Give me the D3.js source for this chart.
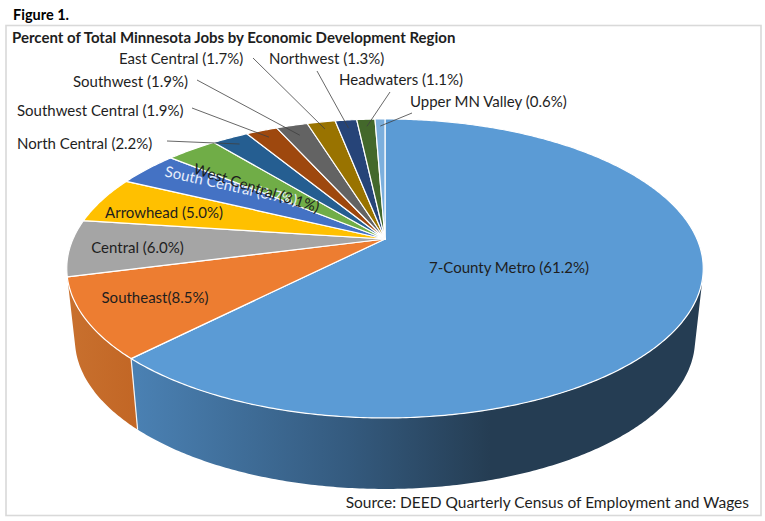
<!DOCTYPE html>
<html><head><meta charset="utf-8">
<script src="https://cdn.jsdelivr.net/npm/d3@7/dist/d3.min.js"></script>
<style>html,body{margin:0;padding:0;background:#fff}svg{display:block}text{font-family:Lato,"Open Sans",sans-serif;fill:#1e1e1e}</style>
</head><body><svg id="c" width="765" height="521"></svg>
<script>
const regions=["7-County Metro","Southeast","Central","Arrowhead","South Central","West Central","North Central","Southwest Central","Southwest","East Central","Northwest","Headwaters","Upper MN Valley"];
const shares=[61.2,8.5,6.0,5.0,3.7,3.1,2.2,1.9,1.9,1.7,1.3,1.1,0.6];
const labels=["7-County Metro (61.2%)","Southeast(8.5%)","Central (6.0%)","Arrowhead (5.0%)","South Central (3.7%)","West Central (3.1%)","North Central (2.2%)","Southwest Central (1.9%)","Southwest (1.9%)","East Central (1.7%)","Northwest (1.3%)","Headwaters (1.1%)","Upper MN Valley (0.6%)"];
const colors=["#5b9bd5","#ed7d31","#a5a5a5","#ffc000","#4472c4","#70ad47","#255e91","#9e480e","#636363","#997300","#264478","#43682b","#7cafdd"];
// label layout: x, y (baseline), anchor, rotation, leader start x,y, leader end radius
const layout=[
 [509,273,"middle",0],[155,303,"middle",0],[137.5,253,"middle",0],[164,218,"middle",0],
 [230,191,"middle",12.5],[255,193,"middle",17.5],
 [17,149,"start",0,167,141,.93],[17,116,"start",0,192,108,.93],[73,87,"start",0,197,80,.9],
 [119,64,"start",0,253,58,.93],[269,64,"start",0,317,71,.92],[339,85,"start",0,390,92,.93],[410,107,"start",0,412,113,.93]];

const svg=d3.select("#c");
const cx=385,apexY=239,k=0.197,topA=143.7,topB=312,wallY=310,wallB=304,TAU=2*Math.PI;
const project=(t,r,B,Y)=>{const u=Math.sin(t)*r,v=-Math.cos(t)*r,d=1-k*v;return [cx+B*u/d,Y+topA*v/d];};
const rimTop=(t,r=1)=>project(t,r,topB,apexY);
const rimBottom=t=>project(t,1,wallB,wallY);
const arcs=d3.pie().sort(null).value(d=>d).startAngle(0).endAngle(TAU)(shares);
const samples=(a,b)=>{const n=Math.max(2,Math.ceil((b-a)/0.01));return d3.range(n+1).map(i=>a+(b-a)*i/n);};
const line=d3.line();

const defs=svg.append("defs");
const g1=defs.append("linearGradient").attr("id","wallMetro").attr("gradientUnits","userSpaceOnUse").attr("x1",138).attr("x2",490).attr("y1",0).attr("y2",0);
g1.append("stop").attr("offset",0).attr("stop-color","#4a80b2");
g1.append("stop").attr("offset",.6).attr("stop-color","#345a7e");
g1.append("stop").attr("offset",1).attr("stop-color","#253d53");
const g2=defs.append("linearGradient").attr("id","wallSE").attr("gradientUnits","userSpaceOnUse").attr("x1",70).attr("x2",138).attr("y1",0).attr("y2",0);
g2.append("stop").attr("offset",0).attr("stop-color","#c8702e");
g2.append("stop").attr("offset",1).attr("stop-color","#c26625");

// frame
svg.append("rect").attr("x",6).attr("y",25.5).attr("width",755).attr("height",490).attr("fill","#fff").attr("stroke","#d9d9d9").attr("stroke-width",1.6);
svg.append("text").attr("x",13).attr("y",20).attr("font-weight",700).attr("font-size",14.5).style("fill","#000").text("Figure 1.");
svg.append("text").attr("x",12).attr("y",43).attr("font-weight",700).attr("font-size",15).text("Percent of Total Minnesota Jobs by Economic Development Region");
svg.append("text").attr("x",749).attr("y",508).attr("text-anchor","end").attr("font-size",15.5).text("Source: DEED Quarterly Census of Employment and Wages");

// walls
const wallFrom=104*Math.PI/180, wallTo=arcs[1].endAngle;
[[arcs[0],"url(#wallMetro)"],[arcs[1],"url(#wallSE)"]].forEach(([a,fill])=>{
  const s=samples(Math.max(a.startAngle,wallFrom),Math.min(a.endAngle,wallTo));
  svg.append("path").attr("d",line(s.map(t=>rimTop(t)).concat(s.slice().reverse().map(rimBottom)))+"Z").attr("fill",fill);
});
svg.append("line").datum(arcs[0].endAngle).attr("x1",d=>rimTop(d)[0]).attr("y1",d=>rimTop(d)[1]).attr("x2",d=>rimBottom(d)[0]).attr("y2",d=>rimBottom(d)[1]).attr("stroke","#f5f5f5").attr("stroke-width",1.2);

// top faces
svg.selectAll("path.slice").data(arcs).join("path").attr("class","slice")
  .attr("d",a=>line([[cx,apexY]].concat(samples(a.startAngle,a.endAngle).map(t=>rimTop(t))))+"Z")
  .attr("fill",(a,i)=>colors[i]).attr("stroke","#fff").attr("stroke-width",1.2).attr("stroke-linejoin","round");

// leaders
arcs.forEach((a,i)=>{const L=layout[i]; if(L.length<5)return;
  const e=rimTop((a.startAngle+a.endAngle)/2,L[6]);
  svg.append("line").attr("x1",L[4]).attr("y1",L[5]).attr("x2",e[0]).attr("y2",e[1]).attr("stroke","#404040").attr("stroke-width",.8);
});
// labels
labels.forEach((t,i)=>{const L=layout[i];
  svg.append("text").attr("x",L[0]).attr("y",L[1]).attr("text-anchor",L[2]).attr("font-size",15)
    .attr("transform",L[3]?`rotate(${L[3]} ${L[0]} ${L[1]})`:null).style("fill",i===4?"#e8eefa":null).text(t);
});
</script></body></html>
